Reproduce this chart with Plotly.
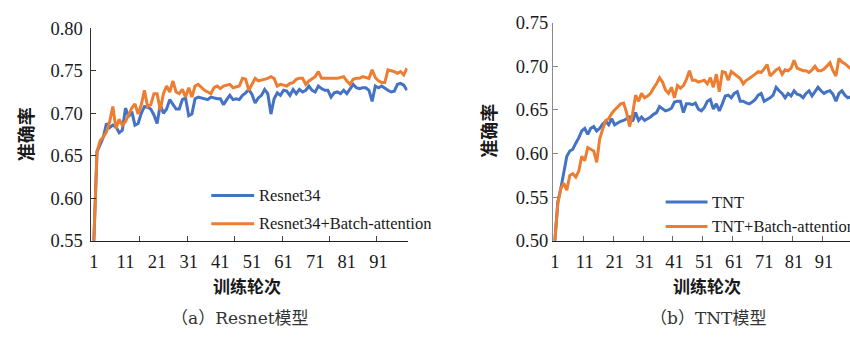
import plotly.graph_objects as go

# ---------------- data ----------------
epochs = list(range(1, 101))
x_tick_labels = [1, 11, 21, 31, 41, 51, 61, 71, 81, 91]

resnet34 = [
    0.550, 0.655, 0.663, 0.672, 0.688, 0.683, 0.686, 0.684, 0.677, 0.680,
    0.706, 0.696, 0.702, 0.686, 0.688, 0.700, 0.708, 0.707, 0.705, 0.698,
    0.688, 0.710, 0.700, 0.705, 0.716, 0.710, 0.705, 0.705, 0.716, 0.718,
    0.697, 0.699, 0.717, 0.719, 0.718, 0.717, 0.716, 0.719, 0.718, 0.717,
    0.717, 0.710, 0.716, 0.721, 0.716, 0.717, 0.716, 0.721, 0.724, 0.728,
    0.722, 0.712, 0.718, 0.721, 0.728, 0.723, 0.699, 0.717, 0.724, 0.721,
    0.727, 0.726, 0.721, 0.728, 0.723, 0.728, 0.725, 0.727, 0.732, 0.727,
    0.725, 0.732, 0.729, 0.727, 0.727, 0.719, 0.724, 0.725, 0.723, 0.727,
    0.723, 0.729, 0.734, 0.730, 0.729, 0.730, 0.730, 0.727, 0.714, 0.732,
    0.730, 0.732, 0.729, 0.727, 0.725, 0.726, 0.734, 0.735, 0.733, 0.727,
]
resnet34_ba = [
    0.550, 0.655, 0.668, 0.672, 0.678, 0.690, 0.708, 0.682, 0.693, 0.686,
    0.690, 0.698, 0.706, 0.711, 0.699, 0.710, 0.727, 0.708, 0.710, 0.723,
    0.723, 0.704, 0.723, 0.732, 0.725, 0.738, 0.725, 0.723, 0.728, 0.719,
    0.730, 0.719, 0.732, 0.734, 0.730, 0.727, 0.725, 0.723, 0.730, 0.732,
    0.729, 0.732, 0.733, 0.734, 0.730, 0.731, 0.732, 0.741, 0.740, 0.727,
    0.735, 0.741, 0.738, 0.739, 0.740, 0.741, 0.743, 0.741, 0.732, 0.734,
    0.733, 0.732, 0.735, 0.736, 0.740, 0.741, 0.741, 0.734, 0.738, 0.741,
    0.743, 0.749, 0.741, 0.741, 0.741, 0.741, 0.741, 0.741, 0.742, 0.743,
    0.738, 0.734, 0.740, 0.741, 0.741, 0.743, 0.742, 0.741, 0.751, 0.742,
    0.738, 0.736, 0.736, 0.751, 0.750, 0.749, 0.747, 0.749, 0.745, 0.753,
]
tnt = [
    0.500, 0.545, 0.560, 0.580, 0.597, 0.603, 0.605, 0.612, 0.618, 0.626,
    0.629, 0.622, 0.629, 0.631, 0.626, 0.629, 0.634, 0.637, 0.633, 0.640,
    0.633, 0.635, 0.637, 0.638, 0.640, 0.642, 0.637, 0.647, 0.638, 0.642,
    0.638, 0.640, 0.642, 0.645, 0.647, 0.654, 0.651, 0.649, 0.650, 0.652,
    0.659, 0.660, 0.660, 0.647, 0.657, 0.657, 0.656, 0.658, 0.651, 0.649,
    0.653, 0.660, 0.662, 0.651, 0.657, 0.649, 0.657, 0.666, 0.667, 0.664,
    0.669, 0.671, 0.660, 0.660, 0.658, 0.657, 0.659, 0.662, 0.667, 0.669,
    0.660, 0.662, 0.664, 0.667, 0.676, 0.672, 0.669, 0.664, 0.669, 0.666,
    0.672, 0.668, 0.667, 0.664, 0.669, 0.672, 0.666, 0.671, 0.676, 0.672,
    0.669, 0.671, 0.672, 0.668, 0.660, 0.669, 0.672, 0.667, 0.664, 0.665,
]
tnt_ba = [
    0.500, 0.543, 0.560, 0.566, 0.558, 0.575, 0.577, 0.573, 0.580, 0.597,
    0.592, 0.607, 0.605, 0.603, 0.590, 0.617, 0.628, 0.638, 0.640, 0.646,
    0.650, 0.653, 0.657, 0.658, 0.647, 0.631, 0.646, 0.667, 0.660, 0.669,
    0.664, 0.666, 0.669, 0.675, 0.680, 0.687, 0.682, 0.673, 0.669, 0.676,
    0.664, 0.678, 0.675, 0.678, 0.685, 0.695, 0.684, 0.684, 0.682, 0.683,
    0.684, 0.680, 0.687, 0.676, 0.691, 0.671, 0.694, 0.693, 0.684, 0.694,
    0.691, 0.688, 0.686, 0.680, 0.684, 0.686, 0.688, 0.691, 0.694, 0.693,
    0.697, 0.702, 0.689, 0.693, 0.696, 0.698, 0.691, 0.696, 0.695, 0.698,
    0.707, 0.698, 0.696, 0.695, 0.695, 0.693, 0.696, 0.700, 0.695, 0.695,
    0.697, 0.700, 0.704, 0.695, 0.689, 0.709, 0.705, 0.703, 0.700, 0.697,
]
left_yticks = [0.55, 0.60, 0.65, 0.70, 0.75, 0.80]
right_yticks = [0.50, 0.55, 0.60, 0.65, 0.70, 0.75]

names_left = ["Resnet34", "Resnet34+Batch-attention"]
names_right = ["TNT", "TNT+Batch-attention"]
captions = ["（a）Resnet模型", "（b）TNT模型"]
x_title = "训练轮次"
y_title = "准确率"

# ---------------- styling ----------------
W, H = 850, 340
BLUE = "#4472C4"
ORANGE = "#ED7D31"
SERIF = "Liberation Serif, Times New Roman, Noto Sans CJK SC"
CAPTION_FONT = "DejaVu Serif, Noto Sans CJK SC"
CJK_BOLD = "Noto Sans CJK SC"
TXT = "#1a1a1a"


def px(x):
    return x / W


def py(y):
    return (H - y) / H


fig = go.Figure()

for xs, ys, nm, col, xa, ya in [
    (epochs, resnet34, names_left[0], BLUE, "x", "y"),
    (epochs, resnet34_ba, names_left[1], ORANGE, "x", "y"),
    (epochs, tnt, names_right[0], BLUE, "x2", "y2"),
    (epochs, tnt_ba, names_right[1], ORANGE, "x2", "y2"),
]:
    fig.add_trace(go.Scatter(
        x=xs, y=ys, name=nm, mode="lines",
        line=dict(color=col, width=3),
        xaxis=xa, yaxis=ya, showlegend=False,
    ))

tickfont = dict(family=SERIF, size=18.5, color=TXT)

fig.update_layout(
    width=W, height=H,
    margin=dict(l=0, r=0, t=0, b=0),
    paper_bgcolor="white", plot_bgcolor="white",
    showlegend=False,
    xaxis=dict(
        domain=[px(88), px(406)], range=[0, 100.2], anchor="y",
        tickmode="array", tickvals=x_tick_labels, ticks="",
        tickfont=tickfont, ticklabelstandoff=4,
        showgrid=False, zeroline=False,
        showline=True, linecolor="#222", linewidth=1.3,
        minor=dict(tickmode="array", tickvals=[15.5, 30.5, 45.5, 60.5, 75.5, 90.5],
                   ticks="inside", ticklen=5, tickcolor="#444", tickwidth=1),
    ),
    yaxis=dict(
        domain=[py(245.3), py(19.3)], range=[0.55, 0.80], anchor="x",
        tickmode="array", tickvals=left_yticks, tickformat=".2f",
        ticks="inside", ticklen=5, tickcolor="#333",
        tickfont=tickfont, ticklabelstandoff=3,
        showgrid=False, zeroline=False,
        showline=True, linecolor="#333", linewidth=1.3,
    ),
    xaxis2=dict(
        domain=[px(552), 1.0], range=[0.4, 99.7], anchor="y2",
        tickmode="array", tickvals=x_tick_labels, ticks="",
        tickfont=tickfont, ticklabelstandoff=4,
        showgrid=False, zeroline=False,
        showline=True, linecolor="#222", linewidth=1.3,
        minor=dict(tickmode="array", tickvals=[10.5 + 10 * i for i in range(9)],
                   ticks="inside", ticklen=5, tickcolor="#666", tickwidth=1),
    ),
    yaxis2=dict(
        domain=[py(245.3), py(13.5)], range=[0.50, 0.75], anchor="x2",
        tickmode="array", tickvals=right_yticks, tickformat=".2f",
        ticks="inside", ticklen=5, tickcolor="#888",
        tickfont=tickfont, ticklabelstandoff=0,
        showgrid=False, zeroline=False,
        showline=True, linecolor="#8a8a8a", linewidth=1.3,
    ),
)

annotations = []
shapes = []

# legend samples and labels
legend_specs = [
    (209, 252, 197, 255, names_left[0], BLUE),
    (209, 252, 227, 255, names_left[1], ORANGE),
    (665, 707, 204, 710, names_right[0], BLUE),
    (665, 707, 230, 710, names_right[1], ORANGE),
]
for x0, x1, yy, xt, label, col in legend_specs:
    shapes.append(dict(type="line", xref="paper", yref="paper",
                       x0=px(x0), x1=px(x1), y0=py(yy), y1=py(yy),
                       line=dict(color=col, width=3)))
    annotations.append(dict(text=label, xref="paper", yref="paper",
                            x=px(xt), y=py(yy), xanchor="left", yanchor="middle",
                            showarrow=False,
                            font=dict(family=SERIF, size=16.5, color=TXT)))

# axis titles
for cx in (245, 706):
    annotations.append(dict(text=f"<b>{x_title}</b>", xref="paper", yref="paper",
                            x=px(cx), y=py(292.5), xanchor="center", yanchor="middle",
                            showarrow=False,
                            font=dict(family=CJK_BOLD, size=17, color=TXT)))
for cx, cy in ((22, 132), (487, 128)):
    annotations.append(dict(text=f"<b>{y_title}</b>", xref="paper", yref="paper",
                            x=px(cx), y=py(cy), xanchor="center", yanchor="middle",
                            textangle=-90, showarrow=False,
                            font=dict(family=CJK_BOLD, size=18, color=TXT)))

# panel captions
for cx, cap in ((238, captions[0]), (707, captions[1])):
    annotations.append(dict(text=cap, xref="paper", yref="paper",
                            x=px(cx), y=py(327), xanchor="center", yanchor="middle",
                            showarrow=False,
                            font=dict(family=CAPTION_FONT, size=17, color="#333")))

fig.update_layout(annotations=annotations, shapes=shapes)
fig.write_html("out.html")
